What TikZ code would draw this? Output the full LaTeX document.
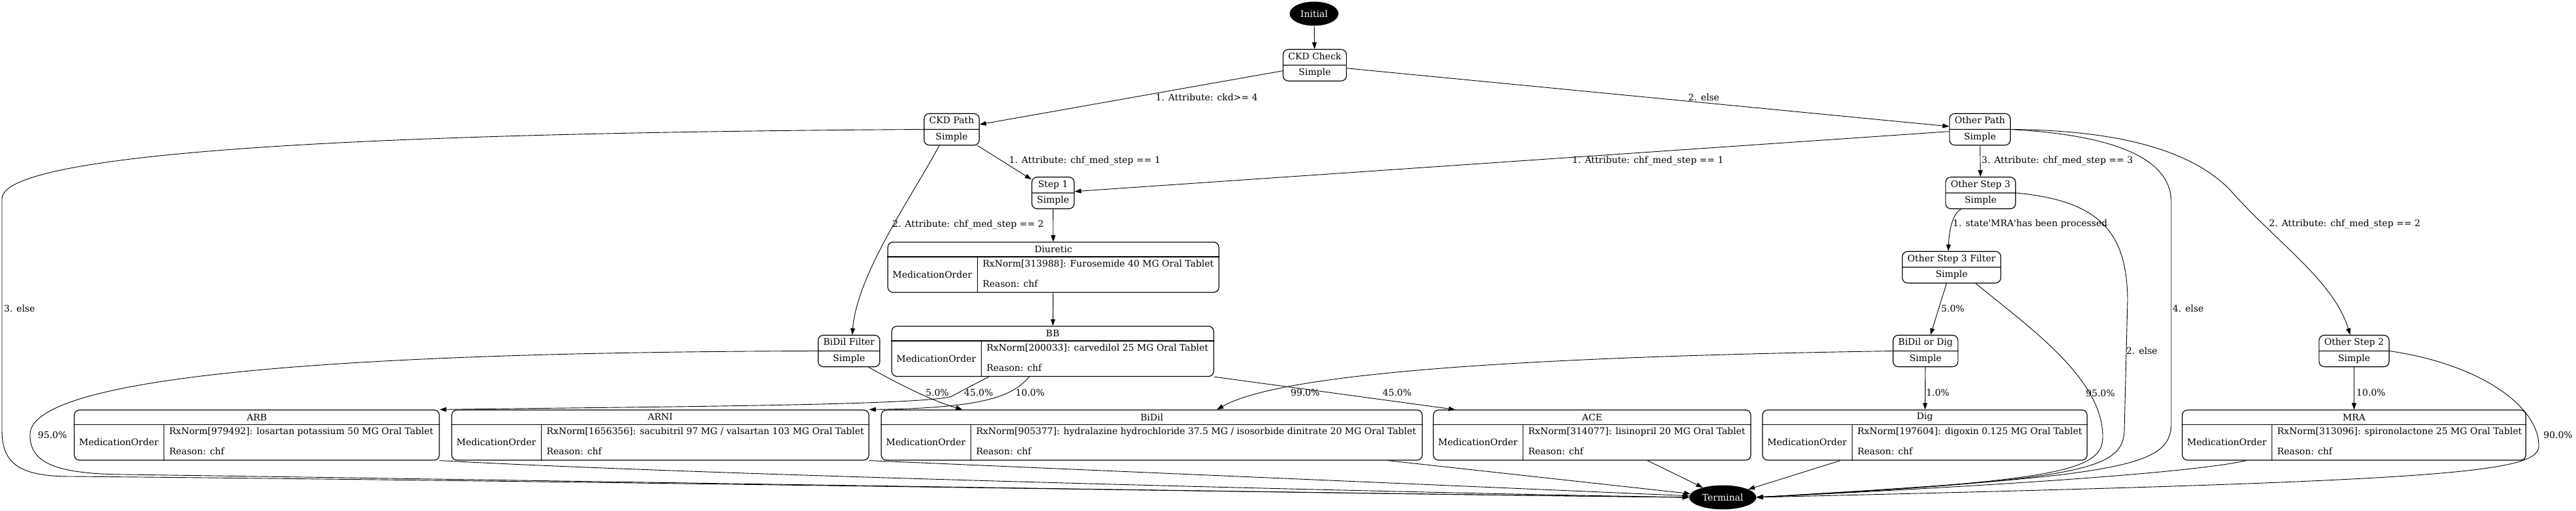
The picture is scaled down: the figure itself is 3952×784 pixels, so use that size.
\documentclass[tikz,border=0pt]{standalone}
\usepackage{fontspec}
\setmainfont{DejaVu Serif}
\usetikzlibrary{shapes.geometric,shapes.multipart,arrows.meta}

\newcommand{\gvfont}{\fontsize{14}{17}\selectfont}

\tikzset{
  state/.style={rectangle split, rectangle split parts=2, draw, line width=1.2pt,
    rounded corners=8pt, inner xsep=8pt, inner ysep=3pt, font=\gvfont, align=center},
  term/.style={ellipse, fill=black, text=white, font=\gvfont, inner sep=0pt, minimum height=37pt},
  medbox/.style={draw, line width=1.2pt, rounded corners=8pt, minimum height=77pt, inner sep=0pt},
  trans/.style={draw, line width=0.9pt, -{Triangle[length=10pt,width=7pt]}},
  lbl/.style={font=\gvfont, inner sep=0pt, anchor=west},
}

% medication order box: name, centre x, centre y, width, title, drug
\newcommand{\medstate}[6]{%
  \path (#2,#3) node[medbox, minimum width=#4pt] (#1) {};
  \draw[line width=1.2pt] ([yshift=-23pt]#1.north west) -- ([yshift=-23pt]#1.north east);
  \draw[line width=1.2pt] ([xshift=138pt,yshift=-23pt]#1.north west) -- ([xshift=138pt]#1.south west);
  \path ([yshift=-11.5pt]#1.north) node[font=\gvfont, inner sep=0pt] (#1-title) {#5};
  \path ([xshift=69pt,yshift=-50pt]#1.north west) node[font=\gvfont, inner sep=0pt] (#1-kind) {MedicationOrder};
  \path ([xshift=146pt,yshift=-34pt]#1.north west) node[lbl] (#1-drug) {#6};
  \path ([xshift=146pt,yshift=-64pt]#1.north west) node[lbl] (#1-reason) {Reason: chf};
}

\begin{document}
\begin{tikzpicture}[x=1pt,y=-1pt]
  \useasboundingbox (0,0) rectangle (3952,784);

  % states
  \path (2016,21) node[term, minimum width=75pt] (initial) {Initial};
  \path (2017,100) node[state] (ckdcheck) {\strut CKD Check\nodepart{two}\strut Simple};
  \path (1460,198.5) node[state] (ckdpath) {\strut CKD Path\nodepart{two}\strut Simple};
  \path (3037.5,198.5) node[state] (otherpath) {\strut Other Path\nodepart{two}\strut Simple};
  \path (1615.5,296) node[state] (step1) {\strut Step 1\nodepart{two}\strut Simple};
  \path (3038.5,296) node[state] (otherstep3) {\strut Other Step 3\nodepart{two}\strut Simple};
  \path (2994,410) node[state] (otherfilter) {\strut Other Step 3 Filter\nodepart{two}\strut Simple};
  \path (1302.5,538.5) node[state] (bidilfilter) {\strut BiDil Filter\nodepart{two}\strut Simple};
  \path (2954,538.5) node[state] (bidilordig) {\strut BiDil or Dig\nodepart{two}\strut Simple};
  \path (3611.5,538.5) node[state] (otherstep2) {\strut Other Step 2\nodepart{two}\strut Simple};
  \path (2643,763) node[term, minimum width=103pt] (terminal) {Terminal};

  % medication orders
  \medstate{diuretic}{1616}{410}{508}{Diuretic}{RxNorm[313988]: Furosemide 40 MG Oral Tablet}
  \medstate{bb}{1615}{539}{494}{BB}{RxNorm[200033]: carvedilol 25 MG Oral Tablet}
  \medstate{arb}{394}{667.5}{560}{ARB}{RxNorm[979492]: losartan potassium 50 MG Oral Tablet}
  \medstate{arni}{1013}{667.5}{640}{ARNI}{RxNorm[1656356]: sacubitril 97 MG / valsartan 103 MG Oral Tablet}
  \medstate{bidil}{1767}{667.5}{830}{BiDil}{RxNorm[905377]: hydralazine hydrochloride 37.5 MG / isosorbide dinitrate 20 MG Oral Tablet}
  \medstate{ace}{2442.5}{667.5}{487}{ACE}{RxNorm[314077]: lisinopril 20 MG Oral Tablet}
  \medstate{dig}{2953}{667.5}{498}{Dig}{RxNorm[197604]: digoxin 0.125 MG Oral Tablet}
  \medstate{mra}{3611.5}{667.5}{527}{MRA}{RxNorm[313096]: spironolactone 25 MG Oral Tablet}

  % transitions
  \draw[trans] (initial) -- (ckdcheck);
  \draw[trans] (ckdcheck) -- (ckdpath);
  \draw[trans] (ckdcheck) -- (otherpath);
  \draw[trans] (ckdpath) -- (step1);
  \draw[trans] ([xshift=-19pt]ckdpath.south) .. controls (1400,300) and (1315,420) .. ([xshift=5pt]bidilfilter.north);
  \draw[trans] (ckdpath.west) .. controls (700,203) and (3,225) .. (3,305) -- (3,660)
    .. controls (3,712) and (30,731) .. (110,731) .. controls (900,738) and (2100,758) .. (terminal.west);
  \draw[trans] (otherpath) -- (step1);
  \draw[trans] (otherpath) -- (otherstep3);
  \draw[trans] (otherpath.east) .. controls (3200,205) and (3331,228) .. (3331,310) -- (3331,650)
    .. controls (3331,718) and (3250,730) .. (terminal.east);
  \draw[trans] (otherpath.east) .. controls (3250,200) and (3360,230) .. (3420,290)
    .. controls (3490,370) and (3580,430) .. ([xshift=-6pt]otherstep2.north);
  \draw[trans] ([xshift=-30pt]otherstep3.south) .. controls (2993,330) and (2990,360) .. ([xshift=-5pt]otherfilter.north);
  \draw[trans] (otherstep3.east) .. controls (3225,308) and (3263,360) .. (3264,460) -- (3259,660)
    .. controls (3257,720) and (3200,736) .. (terminal.east);
  \draw[trans] (otherfilter) -- (bidilordig);
  \draw[trans] ([xshift=37pt]otherfilter.south) .. controls (3110,500) and (3226,580) .. (3226,670)
    .. controls (3226,722) and (3160,738) .. (terminal.east);
  \draw[trans] (step1) -- (diuretic);
  \draw[trans] (diuretic) -- (bb);
  \draw[trans] ([xshift=-98pt]bb.south) .. controls (1490,592) and (1475,600) .. (1460,608)
    .. controls (1420,622) and (1000,624) .. (arb.north east);
  \draw[trans] ([xshift=-36pt]bb.south) .. controls (1555,605) and (1520,626) .. (arni.north east);
  \draw[trans] (bb.south east) -- ([xshift=34pt]ace.north west);
  \draw[trans] ([xshift=30pt]bidilfilter.south) .. controls (1380,590) and (1430,615) .. ([xshift=125pt]bidil.north west);
  \draw[trans] (bidilfilter.west) .. controls (600,540) and (46,570) .. (46,667)
    .. controls (46,708) and (80,727) .. (190,728) .. controls (900,738) and (2100,758) .. (terminal.west);
  \draw[trans] (bidilordig.west) .. controls (2300,548) and (1960,575) .. ([xshift=100pt]bidil.north);
  \draw[trans] (bidilordig) -- (dig);
  \draw[trans] (otherstep2) -- (mra);
  \draw[trans] (otherstep2.east) .. controls (3800,558) and (3893,620) .. (3895,683)
    .. controls (3897,726) and (3760,738) .. (terminal.east);
  \draw[trans] ([xshift=99pt]mra.south west) .. controls (3350,728) and (3000,748) .. (terminal.east);
  \draw[trans] ([xshift=120pt]dig.south west) -- (terminal);
  \draw[trans] ([xshift=329pt]ace.south west) -- (terminal);
  \draw[trans] ([xshift=778pt]bidil.south west) -- (terminal);
  \draw[trans] (arni.south east) -- (terminal);
  \draw[trans] (arb.south east) .. controls (1100,730) and (2200,757) .. (terminal.west);

  % transition labels
  \path (1773,149) node[lbl] (l-ckd) {1. Attribute: ckd>= 4};
  \path (2590,149) node[lbl] (l-else) {2. else};
  \path (1548,247) node[lbl] (l-ckdstep1) {1. Attribute: chf\_med\_step == 1};
  \path (2412,247) node[lbl] (l-otherstep1) {1. Attribute: chf\_med\_step == 1};
  \path (3040,247) node[lbl] (l-step3) {3. Attribute: chf\_med\_step == 3};
  \path (1369,345) node[lbl] (l-ckdstep2) {2. Attribute: chf\_med\_step == 2};
  \path (2996,344) node[lbl] (l-mra) {1. state\textquotesingle MRA\textquotesingle has been processed};
  \path (3481,344) node[lbl] (l-otherstep2) {2. Attribute: chf\_med\_step == 2};
  \path (6,473) node[lbl] (l-ckdelse) {3. else};
  \path (3333,473) node[lbl] (l-otherelse) {4. else};
  \path (2978,473) node[lbl] (l-bidilordig) {5.0\%};
  \path (3262,538) node[lbl] (l-step3else) {2. else};
  \path (1420,602) node[lbl] (l-bidil) {5.0\%};
  \path (1479,602) node[lbl] (l-arb) {45.0\%};
  \path (1558,602) node[lbl] (l-arni) {10.0\%};
  \path (1980,602) node[lbl] (l-bidil2) {99.0\%};
  \path (2121,602) node[lbl] (l-ace) {45.0\%};
  \path (2955,602) node[lbl] (l-dig) {1.0\%};
  \path (3200,603) node[lbl] (l-filterend) {95.0\%};
  \path (3615,602) node[lbl] (l-mra2) {10.0\%};
  \path (58,667) node[lbl] (l-bidilend) {95.0\%};
  \path (3902,667) node[lbl] (l-step2end) {90.0\%};
\end{tikzpicture}
\end{document}
